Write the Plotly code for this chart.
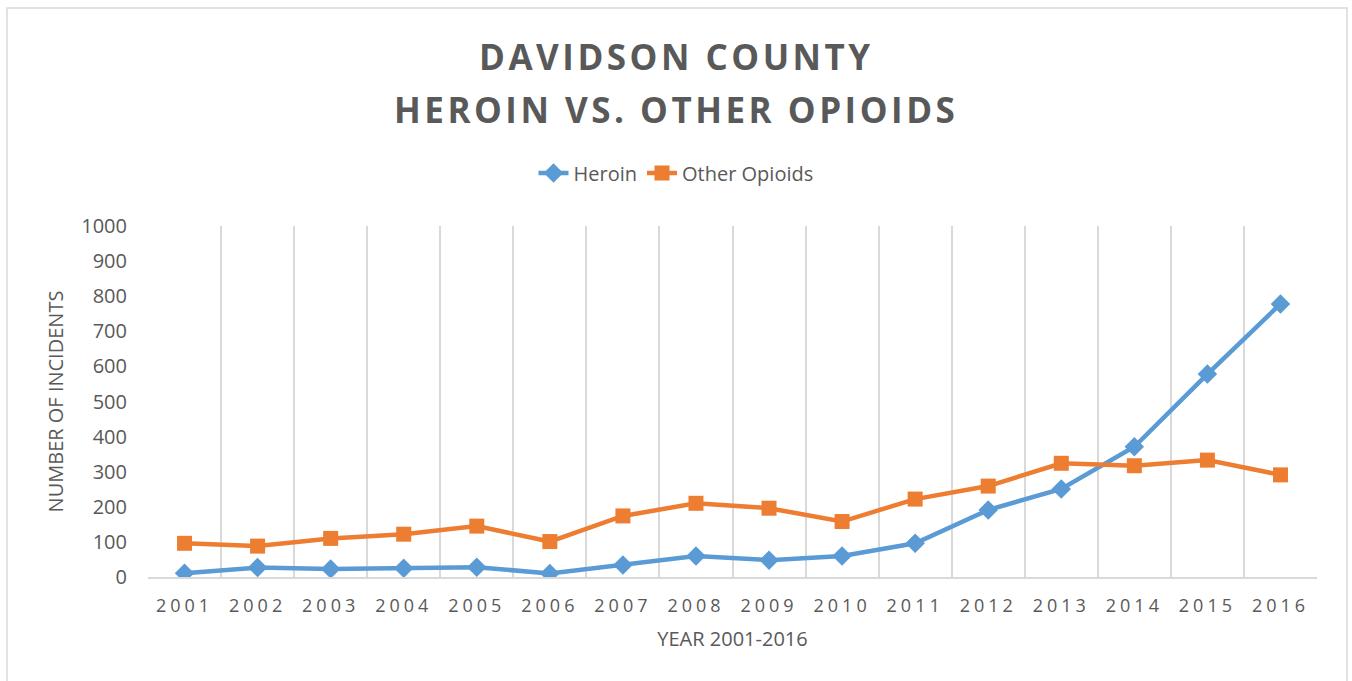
import plotly.graph_objects as go

# Annual incident counts, Davidson County
years = ["2001", "2002", "2003", "2004", "2005", "2006", "2007", "2008",
         "2009", "2010", "2011", "2012", "2013", "2014", "2015", "2016"]
heroin = [11, 27, 23, 25, 28, 10, 34, 60, 48, 60, 96, 191, 251, 371, 578, 778]
other_opioids = [96, 88, 110, 122, 145, 101, 174, 210, 196, 158, 222, 259, 324, 317, 333, 291]
y_ticks = [0, 100, 200, 300, 400, 500, 600, 700, 800, 900, 1000]
title_lines = ["DAVIDSON COUNTY", "HEROIN VS. OTHER OPIOIDS"]

TEXT = "#595959"
GRID = "#d9d9d9"
FONT = "Open Sans, Calibri, sans-serif"
W, H = 1352, 681
# plot area in pixels: left, right, top, bottom
PL, PR, PT, PB = 148, 1317, 226, 577


def spaced(s, px):
    return f'<span style="letter-spacing:{px}px">{s}</span>'


def px_to_paper_x(px):
    return (px - PL) / (PR - PL)


def px_to_paper_y(py):
    return (PB - py) / (PB - PT)


fig = go.Figure()
fig.add_trace(go.Scatter(
    x=years, y=heroin, name="Heroin", mode="lines+markers",
    line=dict(color="#5b9bd5", width=4.5),
    marker=dict(symbol="diamond", size=15, color="#5b9bd5"),
))
fig.add_trace(go.Scatter(
    x=years, y=other_opioids, name="Other Opioids", mode="lines+markers",
    line=dict(color="#ed7d31", width=4.5),
    marker=dict(symbol="square", size=15, color="#ed7d31"),
))

# Two-line bold title, each line placed on its own row
title_annotations = [
    dict(text=spaced(line, 3.5), x=px_to_paper_x(W / 2), xref="paper", xanchor="center",
         y=px_to_paper_y(yc), yref="paper", yanchor="middle", showarrow=False,
         font=dict(size=35, color=TEXT, family=FONT, weight="bold"))
    for line, yc in zip(title_lines, [56, 110])
]

fig.update_layout(
    width=W, height=H,
    margin=dict(l=PL, r=W - PR, t=PT, b=H - PB, autoexpand=False),
    paper_bgcolor="white", plot_bgcolor="white",
    font=dict(family=FONT, color=TEXT),
    annotations=title_annotations,
    showlegend=True,
    legend=dict(
        orientation="h", x=0.5, xref="container", xanchor="center",
        y=1 - 173 / H, yref="container", yanchor="middle",
        font=dict(size=20, color=TEXT), traceorder="normal",
    ),
    xaxis=dict(
        type="category", tickson="boundaries",
        tickvals=years, ticktext=[spaced(y, 4) for y in years],
        showgrid=True, gridcolor=GRID, gridwidth=1.5,
        showline=True, linecolor=GRID, linewidth=1.5,
        ticks="", tickfont=dict(size=18, color=TEXT),
        ticklabelstandoff=12,
        title=dict(text="YEAR 2001-2016", font=dict(size=20, color=TEXT), standoff=16),
        range=[-0.5, 15.5],
    ),
    yaxis=dict(
        range=[0, 1000], tickvals=y_ticks, showgrid=False, zeroline=False,
        showline=False, ticks="", tickfont=dict(size=20, color=TEXT),
        ticklabelstandoff=20,
        title=dict(text="NUMBER OF INCIDENTS", font=dict(size=20, color=TEXT), standoff=12),
    ),
    shapes=[dict(
        type="rect", xref="paper", yref="paper",
        x0=px_to_paper_x(7), x1=px_to_paper_x(1347),
        y0=px_to_paper_y(700), y1=px_to_paper_y(8),
        line=dict(color=GRID, width=1.5), fillcolor="rgba(0,0,0,0)", layer="below",
    )],
)

fig.write_html("out.html")
